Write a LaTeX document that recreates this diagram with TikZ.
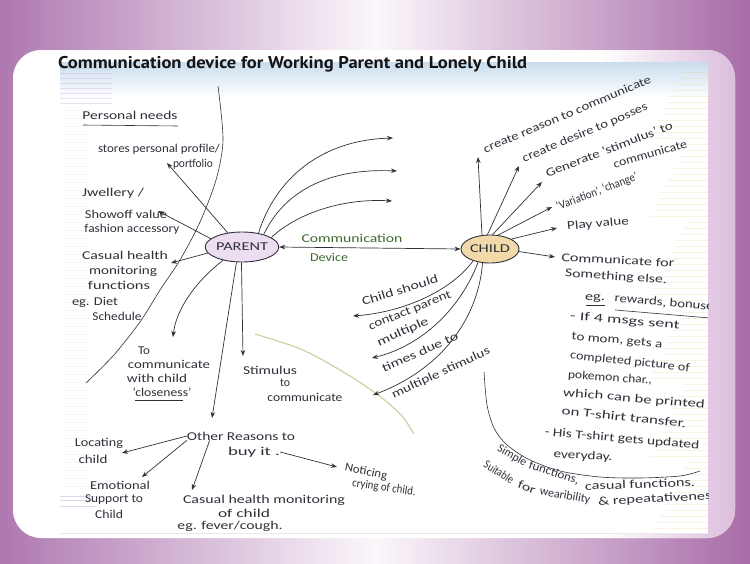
\documentclass[tikz,border=0pt]{standalone}
\usepackage{fontspec}
\setmainfont{Carlito}
\newfontfamily\titlefont{PT Sans}
\usetikzlibrary{arrows.meta,shapes.geometric}
\definecolor{ink}{HTML}{30303A}
\definecolor{bgL}{HTML}{AE78B0}
\definecolor{bgR}{HTML}{A86CA8}
\definecolor{bgM}{HTML}{FBF7FB}
\definecolor{lav}{HTML}{DCBEDC}
\definecolor{commgreen}{HTML}{3D6B2E}
\definecolor{childfill}{HTML}{F2D9A9}
\definecolor{parentfill}{HTML}{ECDDF3}
\definecolor{arcgreen}{HTML}{C5D2A0}
\definecolor{paperblue}{HTML}{CADDEE}
\definecolor{paperyellow}{HTML}{E8CF7A}
\definecolor{paperlav}{HTML}{C9B2E0}
\newcommand{\hwt}[2]{\resizebox{#1pt}{\height}{#2}}
\begin{document}
\begin{tikzpicture}[x=1pt,y=-1pt,
  hw/.style={font=\fontsize{12}{14}\selectfont, text=ink, inner sep=0pt},
  inkline/.style={draw=ink, line width=0.7pt},
  arr/.style={inkline, -{Stealth[length=6pt,width=4.5pt]}},
  bubble/.style={ellipse, draw=ink, line width=0.9pt, inner sep=0pt, font=\fontsize{12}{14}\selectfont, text=ink},
]
\useasboundingbox (0,0) rectangle (750,563);
% background
\shade[left color=bgL, right color=bgR, middle color=bgM] (0,0) rectangle (750,563);
% card
\fill[white, rounded corners=28pt] (13,50) rectangle (735,538);
\begin{scope}
  \clip[rounded corners=28pt] (13,50) rectangle (735,538);
  \shade[left color=white, right color=lav] (600,50) rectangle (735,538);
\end{scope}
% paper
\fill[white] (60,62) rectangle (708,533);
\draw[gray!18, line width=0.5pt] (60,533) -- (708,533);
\begin{scope}
  \clip (60,62) rectangle (708,533);
  \shade[top color=paperblue, bottom color=white] (60,62) rectangle (708,98);
  \foreach \yy [count=\i] in {66,72,...,530}
    \draw[paperyellow, opacity=0.22, line width=0.7pt] ({648+mod(\i*37,40)},\yy) -- (708,\yy);
  \foreach \yy in {68,73,...,103}
    \draw[paperlav, opacity=0.4, line width=0.7pt] (60,\yy) -- (112,\yy);
  \foreach \yy in {110,118,...,490}
    \draw[gray!25, opacity=0.25, line width=0.5pt] (60,\yy) -- (90,\yy);
  \foreach \yy in {496,500,506}
    \draw[paperlav, opacity=0.55, line width=0.9pt] (60,\yy) -- (95,\yy);

  % ---------- central nodes ----------
  \node[bubble, fill=parentfill, minimum width=65pt, minimum height=30pt] (parent) at (242,247) {\hwt{52}{PARENT}};
  \node[bubble, fill=childfill, minimum width=58pt, minimum height=28pt] (child) at (490,249) {\hwt{40}{CHILD}};
  \draw[inkline, {Stealth[length=6pt,width=4.5pt]}-{Stealth[length=6pt,width=4.5pt]}] (parent.east) -- (child.west);
  \node[hw, text=commgreen] (comm) at (352,238) {\hwt{101}{Communication}};
  \node[hw, text=commgreen] (dev) at (329,257) {\hwt{38}{Device}};

  % ---------- left texts ----------
  \node[hw] (pn) at (130,115) {\hwt{95}{Personal needs}};
  \draw[inkline, line width=0.6pt] (83,125) -- (178,126);
  \node[hw] (stores) at (159,149) {\hwt{122}{stores personal profile/}};
  \node[hw] (portf) at (193,164) {\hwt{40}{portfolio}};
  \node[hw] (jw) at (113,193) {\hwt{62}{Jwellery /}};
  \node[hw] (show) at (126,214) {\hwt{82}{Showoff value}};
  \node[hw] (fash) at (132,229) {\hwt{95}{fashion accessory}};
  \node[hw] (cas1) at (125,255) {\hwt{86}{Casual health}};
  \node[hw] (cas2) at (123,271) {\hwt{68}{monitoring}};
  \node[hw] (cas3) at (119,285) {\hwt{62}{functions}};
  \node[hw] (cas4) at (95,302) {\hwt{46}{eg. Diet}};
  \node[hw] (cas5) at (117,316) {\hwt{49}{Schedule}};
  \node[hw] (to1) at (144,351) {\hwt{12}{To}};
  \node[hw] (to2) at (169,364) {\hwt{82}{communicate}};
  \node[hw] (to3) at (157,378) {\hwt{60}{with child}};
  \node[hw] (to4) at (162,392) {\hwt{59}{‘closeness’}};
  \draw[inkline, line width=0.6pt] (135,400) -- (183,400);
  \node[hw] (st1) at (270,370) {\hwt{54}{Stimulus}};
  \node[hw] (st2) at (285,383) {\hwt{10}{to}};
  \node[hw] (st3) at (305,397) {\hwt{75}{communicate}};

  % ---------- bottom texts ----------
  \node[hw] (other) at (241,436) {\hwt{108}{Other Reasons to}};
  \node[hw] (buy) at (254,452) {\hwt{52}{buy it .}};
  \node[hw] (loc1) at (99,443) {\hwt{48}{Locating}};
  \node[hw] (loc2) at (93,459) {\hwt{29}{child}};
  \node[hw] (emo1) at (120,485) {\hwt{60}{Emotional}};
  \node[hw] (emo2) at (114,500) {\hwt{58}{Support to}};
  \node[hw] (emo3) at (109,514) {\hwt{28}{Child}};
  \node[hw] (ch1) at (264,500) {\hwt{162}{Casual health monitoring}};
  \node[hw] (ch2) at (244,513) {\hwt{52}{of child}};
  \node[hw] (ch3) at (230,526) {\hwt{105}{eg. fever/cough.}};
  \node[hw, rotate=-12] (not1) at (366,472) {\hwt{43}{Noticing}};
  \node[hw, rotate=-8] (not2) at (384,488) {\hwt{64}{crying of child.}};

  % ---------- right texts ----------
  \node[hw, rotate=23] (r1) at (567,114) {\hwt{181}{create reason to communicate}};
  \node[hw, rotate=23] (r2) at (585,133) {\hwt{135}{create desire to posses}};
  \node[hw, rotate=21] (r3) at (609,149) {\hwt{135}{Generate ‘stimulus’ to}};
  \node[hw, rotate=16] (r3b) at (650,154) {\hwt{76}{communicate}};
  \node[hw, rotate=21] (r4) at (597,192) {\hwt{86}{‘Variation’, ‘change’}};
  \node[hw, rotate=5] (r5) at (598,224) {\hwt{62}{Play value}};
  \node[hw, rotate=-3] (r6) at (618,260) {\hwt{113}{Communicate for}};
  \node[hw, rotate=-4] (r6b) at (616,277) {\hwt{102}{Something else.}};
  \node[hw] (eg) at (595,299) {\hwt{20}{eg.}};
  \draw[inkline, line width=0.6pt] (586,305) -- (605,305);
  \node[hw, rotate=-5] (rew) at (667,303) {\hwt{105}{rewards, bonuses}};
  \draw[inkline, line width=0.6pt] (615,310) -- (710,318);
  \node[hw, rotate=-5] (d1) at (625,321) {\hwt{110}{- If 4 msgs sent}};
  \node[hw, rotate=-5] (d2) at (617,341) {\hwt{91}{to mom, gets a}};
  \node[hw, rotate=-6] (d3) at (630,362) {\hwt{120}{completed picture of}};
  \node[hw, rotate=-4] (d4) at (610,378) {\hwt{84}{pokemon char.,}};
  \node[hw, rotate=-5] (d5) at (634,399) {\hwt{142}{which can be printed}};
  \node[hw, rotate=-6] (d6) at (624,417) {\hwt{125}{on T-shirt transfer.}};
  \node[hw, rotate=-5] (d7) at (622,439) {\hwt{155}{- His T-shirt gets updated}};
  \node[hw, rotate=-3] (d8) at (583,456) {\hwt{59}{everyday.}};

  % bottom right arc and its texts
  \draw[inkline, line width=0.6pt] plot[smooth] coordinates {(484,372) (487,405) (494,428) (506,444) (528,459) (560,471) (600,477) (640,478) (680,476) (700,471)};
  \node[hw, rotate=-30] (b1) at (512,456) {\hwt{32}{Simple}};
  \node[hw, rotate=-18] (b2) at (554,473) {\hwt{52}{functions,}};
  \node[hw, rotate=2] (b3) at (640,484) {\hwt{110}{casual functions.}};
  \node[hw, rotate=-32] (b4) at (499,472) {\hwt{33}{Suitable}};
  \node[hw, rotate=-20] (b5) at (527,487) {\hwt{18}{for}};
  \node[hw, rotate=-10] (b6) at (565,496) {\hwt{51}{wearibility}};
  \node[hw, rotate=3] (b7) at (658,499) {\hwt{120}{\& repeatativeness}};

  % child lower-left texts
  \node[hw, rotate=17] (l1) at (400,290) {\hwt{79}{Child should}};
  \node[hw, rotate=22] (l2) at (410,311) {\hwt{88}{contact parent}};
  \node[hw, rotate=24] (l3) at (403,332) {\hwt{55}{multiple}};
  \node[hw, rotate=24] (l4) at (420,352) {\hwt{82}{times due to}};
  \node[hw, rotate=25] (l5) at (441,373) {\hwt{107}{multiple stimulus}};

  % ---------- free shapes ----------
  \draw[inkline, line width=0.6pt] plot[smooth] coordinates {(218,86) (223,140) (216,180) (200,222) (180,260) (160,290) (140,322) (113,356) (86,383)};
  \draw[arcgreen, line width=1.1pt] plot[smooth] coordinates {(255,334) (303,350) (350,376) (382,398) (402,416) (414,434)};

  % ---------- arrow end points ----------
  \coordinate (tStores) at (167,163);
  \coordinate (tJw) at (158,211);
  \coordinate (tCas) at (171,263);
  \coordinate (tTo) at (173,337);
  \coordinate (tOther) at (212,418);
  \coordinate (tStim) at (243,356);
  \coordinate (tU1) at (393,138);
  \coordinate (tU2) at (397,171);
  \coordinate (tU3) at (392,201);
  \coordinate (tLoc) at (122,453);
  \coordinate (tEmo) at (142,477);
  \coordinate (tCas2) at (192,490);
  \coordinate (tNot) at (337,467);
  \coordinate (tC1) at (478,157);
  \coordinate (tC2) at (519,166);
  \coordinate (tC3) at (542,182);
  \coordinate (tC4) at (552,207);
  \coordinate (tC5) at (557,228);
  \coordinate (tC6) at (555,257);
  \coordinate (tL1) at (353,316);
  \coordinate (tL2) at (372,358);
  \coordinate (tL3) at (373,395);

  % ---------- parent arrows ----------
  \draw[arr] (parent.135) -- (tStores);
  \draw[arr] (parent.165) -- (tJw);
  \draw[arr] (parent.190) -- (tCas);
  \draw[arr] (parent.215) .. controls (195,282) and (176,310) .. (tTo);
  \draw[arr] (parent.250) -- (tOther);
  \draw[arr] (parent.268) -- (tStim);
  \draw[arr] (parent.40) .. controls (275,180) and (320,140) .. (tU1);
  \draw[arr] (parent.30) .. controls (285,190) and (330,168) .. (tU2);
  \draw[arr] (parent.18) .. controls (295,215) and (340,198) .. (tU3);

  % ---------- other reasons arrows ----------
  \draw[arr] (other.west) -- (tLoc);
  \draw[arr] (other.south west) -- (tEmo);
  \draw[arr] (other.188) -- (tCas2);
  \draw[arr] (buy.east) -- (tNot);

  % ---------- child arrows ----------
  \draw[arr] (child.120) -- (tC1);
  \draw[arr] (child.100) -- (tC2);
  \draw[arr] (child.80) -- (tC3);
  \draw[arr] (child.60) -- (tC4);
  \draw[arr] (child.25) -- (tC5);
  \draw[arr] (child.-5) -- (tC6);
  \draw[arr] (child.215) .. controls (452,290) and (405,312) .. (tL1);
  \draw[arr] (child.228) .. controls (462,305) and (425,345) .. (tL2);
  \draw[arr] (child.242) .. controls (478,320) and (440,370) .. (tL3);
\end{scope}
% title
\node[anchor=base west, inner sep=0pt, text=black!92] (title) at (58,68) {\resizebox{469pt}{\height}{\titlefont\bfseries\fontsize{17}{20}\selectfont Communication device for Working Parent and Lonely Child}};
\end{tikzpicture}
\end{document}
